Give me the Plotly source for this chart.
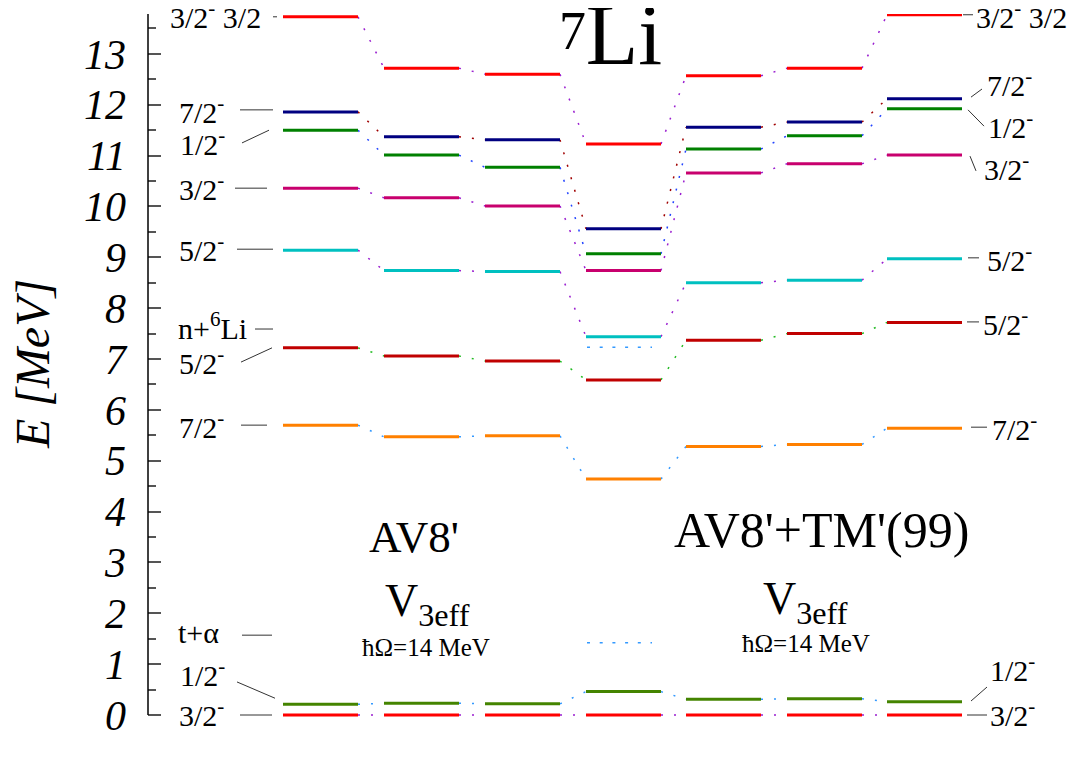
import plotly.graph_objects as go

# ---------------- data ----------------
columns = ["2ħΩ", "4ħΩ", "6ħΩ", "Exp", "6ħΩ", "4ħΩ", "2ħΩ"]

E_32_1 = [0.00, 0.00, 0.00, 0.00, 0.00, 0.00, 0.00]
E_12_1 = [0.21, 0.23, 0.22, 0.46, 0.31, 0.32, 0.26]
E_72_1 = [5.70, 5.47, 5.49, 4.64, 5.28, 5.32, 5.64]
E_52_1 = [7.22, 7.06, 6.96, 6.59, 7.37, 7.50, 7.72]
E_52_2 = [9.14, 8.74, 8.72, 7.44, 8.50, 8.55, 8.97]
E_32_2 = [10.36, 10.17, 10.01, 8.74, 10.66, 10.84, 11.01]
E_12_2 = [11.50, 11.01, 10.77, 9.07, 11.13, 11.39, 11.92]
E_72_2 = [11.86, 11.37, 11.31, 9.56, 11.56, 11.66, 12.12]
E_32_3 = [13.73, 12.72, 12.60, 11.23, 12.57, 12.72, 13.77]

thresholds_exp = [7.23, 1.42]          # n+6Li, t+alpha (dotted, Exp column)

left_labels = ["3/2<sup>-</sup> 3/2", "7/2<sup>-</sup>", "1/2<sup>-</sup>", "3/2<sup>-</sup>",
               "5/2<sup>-</sup>", "n+<sup>6</sup>Li", "5/2<sup>-</sup>", "7/2<sup>-</sup>",
               "t+α", "1/2<sup>-</sup>", "3/2<sup>-</sup>"]
left_label_E = [13.77, 11.90, 11.27, 10.38, 9.18, 7.65, 6.96, 5.70, 1.63, 0.83, 0.04]
left_lead_E0 = [13.73, 11.90, 11.25, 10.36, 9.16, 7.59, 6.94, 5.70, 1.57, 0.65, 0.00]
left_lead_E1 = [13.73, 11.90, 11.50, 10.36, 9.16, 7.59, 7.22, 5.70, 1.57, 0.33, 0.00]

right_labels = ["3/2<sup>-</sup> 3/2", "7/2<sup>-</sup>", "1/2<sup>-</sup>", "3/2<sup>-</sup>",
                "5/2<sup>-</sup>", "5/2<sup>-</sup>", "7/2<sup>-</sup>", "1/2<sup>-</sup>",
                "3/2<sup>-</sup>"]
right_label_E = [13.77, 12.43, 11.60, 10.78, 8.99, 7.73, 5.66, 0.92, 0.04]
right_lead_E0 = [13.77, 12.15, 11.90, 10.99, 8.99, 7.73, 5.66, 0.275, 0.00]
right_lead_E1 = [13.77, 12.31, 11.58, 10.70, 8.99, 7.73, 5.66, 0.55, 0.00]

title_mass = "7"
title_elem = "Li"

# ---------------- layout constants (x axis in window pixels) ----------------
col_left = [283, 384, 485, 586, 686, 787, 887]
bar_w = 75
col_label_x = [308, 411, 511, 620, 725, 822, 922]

left_text_x = [263, 226, 227, 226, 226, 249, 226, 226, 221, 227, 226]
left_lead_x0 = [273, 240, 242, 235, 237, 255, 241, 241, 242, 237, 240]
left_lead_x1 = [277, 273, 269, 267, 273, 273, 272, 267, 272, 275, 272]

right_text_x = [974, 985, 986, 982, 985, 981, 990, 988, 988]
right_lead_x0 = [963, 971, 968, 970, 968, 967, 971, 971, 967]
right_lead_x1 = [973, 982, 984, 976, 979, 979, 987, 987, 987]

series = [
    (E_32_1, "#ff0000", "#9a1ed0"),
    (E_12_1, "#448400", "#3399ff"),
    (E_72_1, "#ff8000", "#3399ff"),
    (E_52_1, "#c00000", "#22bb22"),
    (E_52_2, "#00c0c0", "#9a1ed0"),
    (E_32_2, "#c8006e", "#9a1ed0"),
    (E_12_2, "#008000", "#2244ff"),
    (E_72_2, "#000080", "#a00000"),
    (E_32_3, "#ff0000", "#9a1ed0"),
]

FONT = "Liberation Serif"
LBL = 30
fig = go.Figure()

# connectors
for vals, col, ccol in series:
    xs, ys = [], []
    for i in range(len(vals) - 1):
        xs += [col_left[i] + bar_w, col_left[i + 1], None]
        ys += [vals[i], vals[i + 1], None]
    fig.add_trace(go.Scatter(x=xs, y=ys, mode="lines", hoverinfo="skip",
                             line=dict(color=ccol, width=1.5, dash="2px,11px"),
                             showlegend=False))

# thresholds in Exp column
for t in thresholds_exp:
    fig.add_trace(go.Scatter(x=[col_left[3] + 1, col_left[3] + 66], y=[t, t], mode="lines",
                             line=dict(color="#3399ff", width=1.5, dash="3px,9.7px"),
                             hoverinfo="skip", showlegend=False))

# levels
for vals, col, ccol in series:
    xs, ys = [], []
    for i, v in enumerate(vals):
        xs += [col_left[i], col_left[i] + bar_w, None]
        ys += [v, v, None]
    fig.add_trace(go.Scatter(x=xs, y=ys, mode="lines", line=dict(color=col, width=3),
                             showlegend=False))

# element symbol as a text mark
fig.add_trace(go.Scatter(x=[624], y=[13.23], mode="text", text=[title_elem],
                         textposition="middle center", cliponaxis=False, hoverinfo="skip",
                         textfont=dict(family=FONT, size=86, color="black"), showlegend=False))

ann = []
shapes = []
# left labels
for txt, ey, tx, x0, x1, e0, e1 in zip(left_labels, left_label_E, left_text_x,
                                       left_lead_x0, left_lead_x1, left_lead_E0, left_lead_E1):
    ann.append(dict(x=tx, y=ey, xref="x", yref="y", text=txt, showarrow=False,
                    xanchor="right", yanchor="middle",
                    font=dict(family=FONT, size=LBL, color="black")))
    shapes.append(dict(type="line", xref="x", yref="y", x0=x0, x1=x1, y0=e0, y1=e1,
                       line=dict(color="#333333", width=1)))
# right labels
for txt, ey, tx, x0, x1, e0, e1 in zip(right_labels, right_label_E, right_text_x,
                                       right_lead_x0, right_lead_x1, right_lead_E0, right_lead_E1):
    ann.append(dict(x=tx, y=ey, xref="x", yref="y", text=txt, showarrow=False,
                    xanchor="left", yanchor="middle",
                    font=dict(family=FONT, size=LBL, color="black")))
    shapes.append(dict(type="line", xref="x", yref="y", x0=x0, x1=x1, y0=e0, y1=e1,
                       line=dict(color="#333333", width=1)))

# column labels
for name, cx in zip(columns, col_label_x):
    ann.append(dict(x=cx, y=-0.73, xref="x", yref="y", text=name, showarrow=False,
                    xanchor="center", yanchor="middle",
                    font=dict(family=FONT, size=40, color="black")))

# text blocks
ann += [
    dict(x=572, y=13.45, xref="x", yref="y", text=title_mass, showarrow=False,
         xanchor="center", yanchor="middle", font=dict(family=FONT, size=54, color="black")),
    dict(x=414, y=3.50, xref="x", yref="y", text="AV8'", showarrow=False,
         xanchor="center", yanchor="middle", font=dict(family=FONT, size=45, color="black")),
    dict(x=821, y=3.64, xref="x", yref="y", text="AV8'+TM'(99)", showarrow=False,
         xanchor="center", yanchor="middle", font=dict(family=FONT, size=50, color="black")),
    dict(x=427, y=2.18, xref="x", yref="y", text="V<sub>3eff</sub>", showarrow=False,
         xanchor="center", yanchor="middle", font=dict(family=FONT, size=46, color="black")),
    dict(x=805, y=2.22, xref="x", yref="y", text="V<sub>3eff</sub>", showarrow=False,
         xanchor="center", yanchor="middle", font=dict(family=FONT, size=46, color="black")),
    dict(x=426, y=1.32, xref="x", yref="y", text="ħΩ=14 MeV", showarrow=False,
         xanchor="center", yanchor="middle", font=dict(family=FONT, size=25, color="black")),
    dict(x=806, y=1.40, xref="x", yref="y", text="ħΩ=14 MeV", showarrow=False,
         xanchor="center", yanchor="middle", font=dict(family=FONT, size=25, color="black")),
    dict(x=(32 - 148) / 944, y=6.9, xref="paper", yref="y", text="E [MeV]", showarrow=False,
         textangle=-90, xanchor="center", yanchor="middle",
         font=dict(family=FONT, size=48, color="black", style="italic")),
]

# y axis line (from 0 to top)
shapes.append(dict(type="line", xref="paper", yref="y", x0=0, x1=0, y0=0, y1=13.785,
                   line=dict(color="black", width=1.5)))

# the page body adds an 8px offset; margins compensate so x data == window pixels
fig.update_layout(
    width=1084, height=780,
    margin=dict(l=140, r=0, t=6, b=70),
    paper_bgcolor="white", plot_bgcolor="white",
    annotations=ann, shapes=shapes,
    xaxis=dict(range=[148, 1092], visible=False),
    yaxis=dict(range=[-0.059, 13.785], showgrid=False, zeroline=False, showline=False,
               tickmode="linear", tick0=0, dtick=1, ticks="inside", ticklen=13,
               tickcolor="#555555", tickwidth=1.5, ticklabelstandoff=21,
               tickfont=dict(family=FONT, size=42, color="black", style="italic"),
               minor=dict(dtick=0.5, ticks="inside", ticklen=8, tickcolor="#555555",
                          tickwidth=1.5)),
)

fig.write_html("out.html")
